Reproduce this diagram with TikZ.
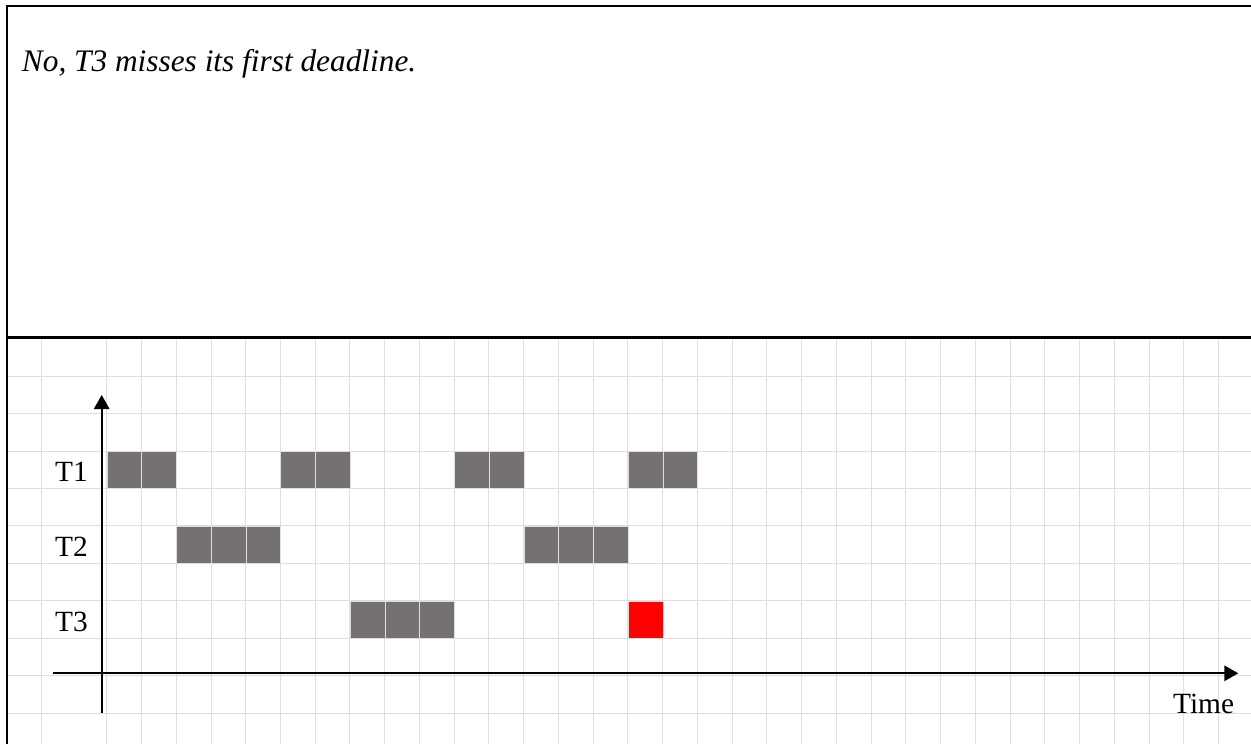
\documentclass[tikz,border=0pt]{standalone}
\usepackage{fontspec}
\setmainfont{Liberation Serif}
\usepackage{tikz}
\usetikzlibrary{arrows.meta,positioning}
\usepackage{xcolor}
\definecolor{taskgray}{RGB}{118,113,113}
\definecolor{missred}{RGB}{255,0,0}
\definecolor{gridgray}{RGB}{222,222,222}

\begin{document}
\begin{tikzpicture}[
    x=0.75pt, y=-0.75pt,
    slot/.style={rectangle, fill=taskgray, draw=gridgray, line width=0.6pt, inner sep=0pt,
        minimum width=26.05pt, minimum height=28.1pt, anchor=north west},
    missed/.style={slot, fill=missred},
    tasklabel/.style={font=\fontsize{22}{26}\selectfont, anchor=base east, inner sep=0pt},
    axis/.style={line width=1.5pt, -{Triangle[width=11.5pt,length=10.5pt]}}
]
\useasboundingbox (0,0) rectangle (1251,744);

% background grid of the lower cell
\draw[gridgray, line width=0.6pt] (41.7,338) -- (41.7,744);
\foreach \k in {0,...,32}
    \draw[gridgray, line width=0.6pt] ({106.7+34.74*\k},338) -- ({106.7+34.74*\k},744);
\foreach \k in {0,...,9}
    \draw[gridgray, line width=0.6pt] (7,{376+37.47*\k}) -- (1251,{376+37.47*\k});

% answer text
\node[font=\fontsize{23.5}{28}\selectfont\itshape, anchor=base west, inner sep=0pt] (answer) at (21.7,71.7)
    {No, T3 misses its first deadline.};

% schedule
\foreach \c in {0,1,5,6,10,11,15,16}
    \node[slot] (t1-\c) at ({106.7+34.74*\c},451) {};
\foreach \c in {2,3,4,12,13,14}
    \node[slot] (t2-\c) at ({106.7+34.74*\c},525.9) {};
\foreach \c in {7,8,9}
    \node[slot] (t3-\c) at ({106.7+34.74*\c},600.8) {};
\node[missed] (t3-miss) at ({106.7+34.74*15},600.8) {};

\node[tasklabel] (lone) at (88,481) {T1};
\node[tasklabel] (ltwo) at (88,556) {T2};
\node[tasklabel] (lthree) at (88,631) {T3};

% axes
\coordinate (ybot) at (101.7,713.3);
\coordinate (ytop) at (101.7,395);
\coordinate (xleft) at (53.3,673.3);
\coordinate (xright) at (1238.3,673.3);
\draw[axis] (ybot) -- (ytop);
\draw[axis] (xleft) -- (xright);
\node[tasklabel] (time) at (1234.3,713.3) {Time};

% frame
\draw[line width=1.6pt] (7,744) -- (7,6) -- (1251,6);
\draw[line width=1.6pt] (7,337.5) -- (1251,337.5);

\end{tikzpicture}
\end{document}
